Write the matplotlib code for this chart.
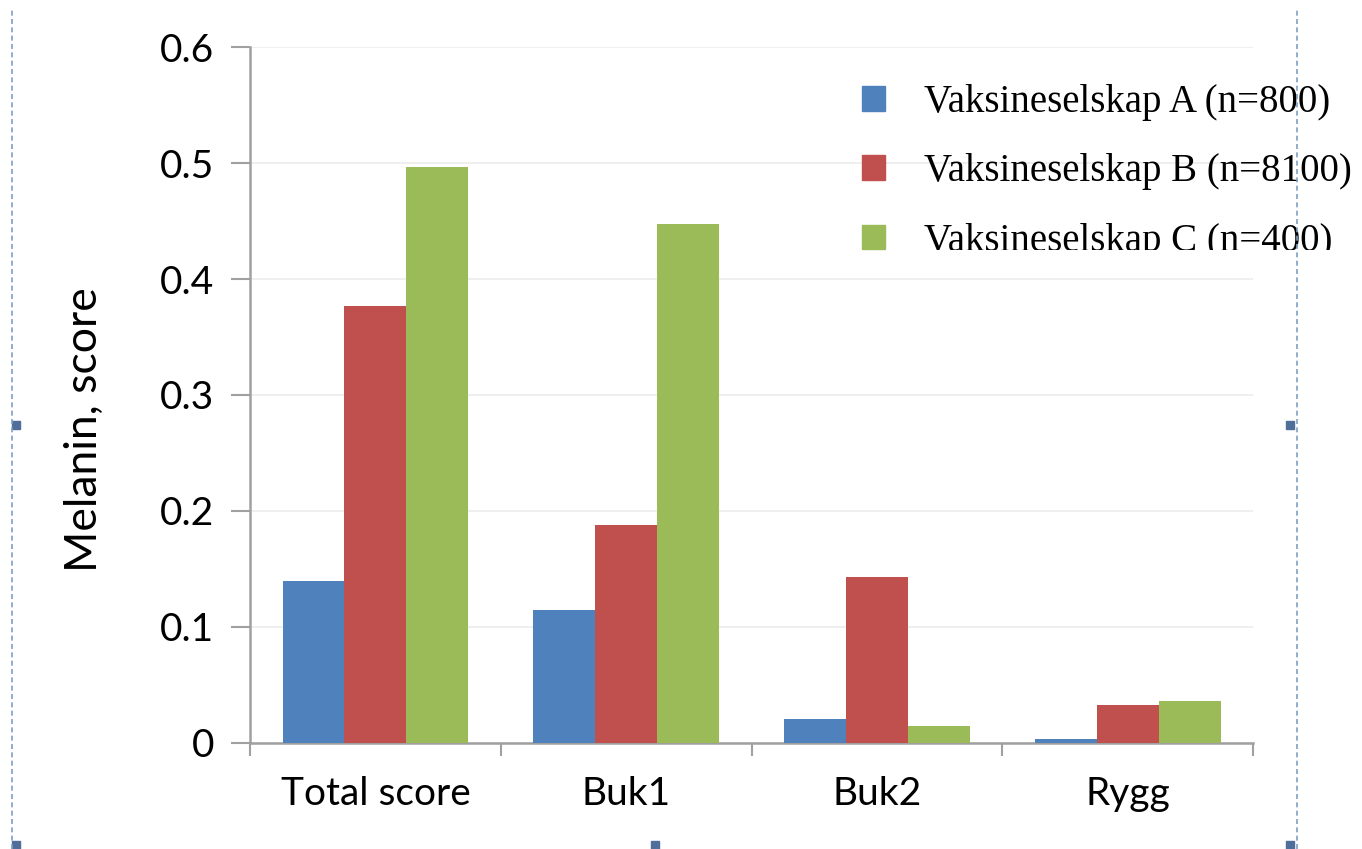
import matplotlib.pyplot as plt
import matplotlib.lines as mlines
import matplotlib.patches as mpatches
import numpy as np

plt.rcParams['font.family'] = ['Lato', 'DejaVu Sans']

# ── data ─────────────────────────────────────────────────────────────────────
categories = ['Total score', 'Buk1', 'Buk2', 'Rygg']
series = [
    'Vaksineselskap A (n=800)',
    'Vaksineselskap B (n=8100)',
    'Vaksineselskap C (n=400)',
]
vals_a = [0.140, 0.115, 0.021, 0.003]
vals_b = [0.377, 0.188, 0.143, 0.033]
vals_c = [0.497, 0.447, 0.015, 0.036]
yticks = [0, 0.1, 0.2, 0.3, 0.4, 0.5, 0.6]
ytick_labels = ['0', '0.1', '0.2', '0.3', '0.4', '0.5', '0.6']

colors = ['#4f81bd', '#c0504d', '#9bbb59']

# ── figure ───────────────────────────────────────────────────────────────────
fig = plt.figure(figsize=(13.62, 8.49), dpi=100)
ax = fig.add_axes([0.1836, 0.1249, 0.7364, 0.8197])

x = np.arange(len(categories))
w = 0.247
for i, (vals, col, lbl) in enumerate(zip([vals_a, vals_b, vals_c], colors, series)):
    ax.bar(x + (i - 1) * w, vals, width=w, color=col, label=lbl, zorder=3,
           edgecolor='none')

ax.set_xlim(-0.5, len(categories) - 0.5)
ax.set_ylim(0, 0.6)
ax.set_yticks(yticks)
ax.set_yticklabels(ytick_labels)
ax.yaxis.grid(True, color='#ececec', linewidth=1.2, zorder=0)
ax.set_axisbelow(True)

# category ticks between groups
ax.set_xticks(x)
ax.set_xticklabels(categories)
ax.set_xticks(np.arange(len(categories) + 1) - 0.5, minor=True)
ax.tick_params(axis='x', which='major', length=0, pad=24, labelsize=28)
ax.tick_params(axis='x', which='minor', length=9, width=1.5, color='#a0a0a0')
ax.tick_params(axis='y', length=14, width=1.5, color='#a0a0a0', pad=12, labelsize=28)

for s in ['top', 'right']:
    ax.spines[s].set_visible(False)
for s in ['left', 'bottom']:
    ax.spines[s].set_color('#a0a0a0')
    ax.spines[s].set_linewidth(1.8)

ax.set_ylabel('Melanin, score', fontsize=32)
ax.yaxis.set_label_coords(-0.145, 0.45)

handles = [mpatches.Patch(color=c, label=l) for c, l in zip(colors, series)]
leg = ax.legend(handles=handles, loc='upper left', bbox_to_anchor=(0.575, 0.997),
                frameon=False, prop={'family': 'Liberation Serif', 'size': 28},
                handlelength=0.6, handleheight=0.6, handletextpad=1.0,
                labelspacing=0.83)

# legend box of the original is cut off at the bottom
clip = mpatches.Rectangle((0, 1 - 250 / 849), 1, 250 / 849,
                          transform=fig.transFigure, visible=False)
fig.add_artist(clip)
for t in leg.get_texts():
    t.set_clip_path(clip)
    t.set_clip_on(True)

# selection frame of the screenshot
frame = '#7f9fc2'
for fx in [12 / 1362, 1297 / 1362]:
    fig.add_artist(mlines.Line2D([fx, fx], [0, 0.99], color=frame,
                                 linestyle=(0, (3, 2)), linewidth=1.2))
hs = 8
for px, py in [(16, 425), (1290, 425), (16, 845), (655, 845), (1290, 845)]:
    fig.add_artist(mpatches.Rectangle(((px - hs / 2) / 1362, 1 - (py + hs / 2) / 849),
                                      hs / 1362, hs / 849, color='#4f6f9a'))

plt.savefig('out.png', dpi=100)
